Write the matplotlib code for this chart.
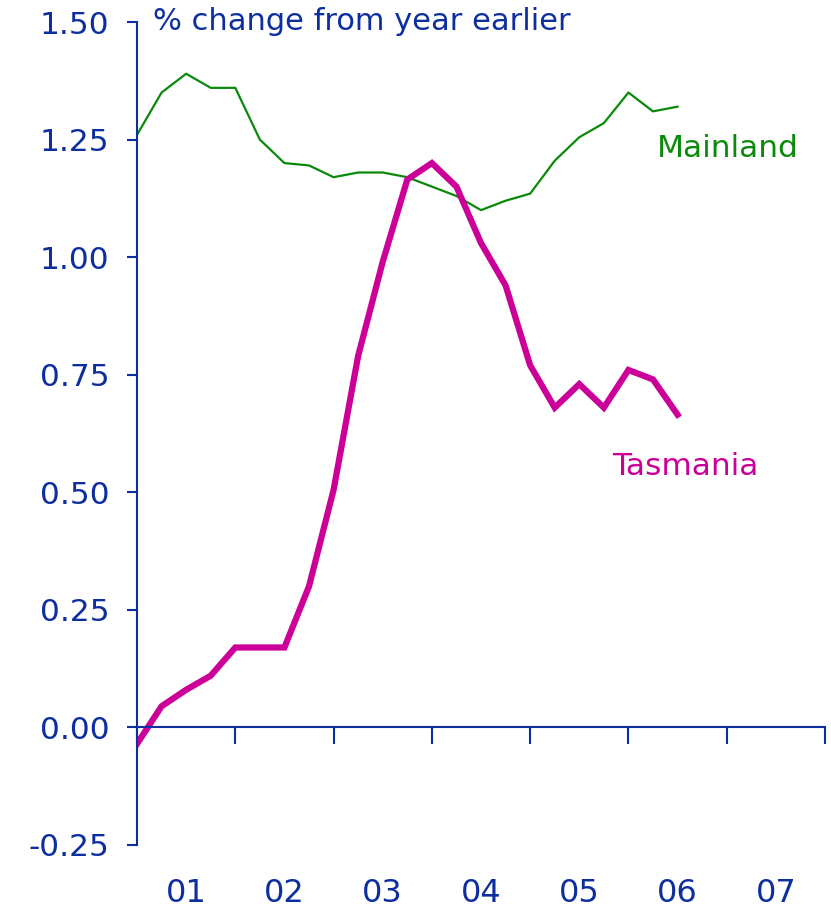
import numpy as np
import matplotlib
matplotlib.use('Agg')
import matplotlib.pyplot as plt
import matplotlib.transforms as mtransforms

# quarterly data, first point at start of 2001
quarters = np.arange(23)
tasmania = [-0.035, 0.045, 0.08, 0.11, 0.17, 0.17, 0.17, 0.30, 0.505, 0.79,
            0.99, 1.165, 1.20, 1.15, 1.03, 0.94, 0.77, 0.68, 0.73, 0.68,
            0.76, 0.74, 0.665]
mainland = [1.26, 1.35, 1.39, 1.36, 1.36, 1.25, 1.20, 1.195, 1.17, 1.18,
            1.18, 1.17, 1.15, 1.13, 1.10, 1.12, 1.135, 1.205, 1.255, 1.285,
            1.35, 1.31, 1.32]
years = ['01', '02', '03', '04', '05', '06', '07']
yticks = [-0.25, 0.0, 0.25, 0.50, 0.75, 1.00, 1.25, 1.50]

blue = '#0d2e9e'
green = '#0a8a0a'
magenta = '#cc0099'

x = 2001 + quarters / 4.0

fig = plt.figure(figsize=(8.31, 9.11), dpi=100)
ax = fig.add_axes([137/831, 1 - 845/911, (825-137)/831, (845-22)/911])

ax.plot(x, mainland, color=green, lw=1.6)
ax.plot(x, tasmania, color=magenta, lw=4.5, solid_joinstyle='miter')

ax.set_xlim(2001, 2008)
ax.set_ylim(-0.25, 1.5)

ax.spines['top'].set_visible(False)
ax.spines['right'].set_visible(False)
ax.spines['bottom'].set_position(('data', 0))
for s in ['left', 'bottom']:
    ax.spines[s].set_color(blue)
    ax.spines[s].set_linewidth(1.5)

ax.set_yticks(yticks)
ax.set_yticklabels(['%.2f' % v for v in yticks])
ax.tick_params(axis='y', direction='out', length=7, width=1.5, color=blue,
               labelcolor=blue, labelsize=22.5, pad=13)
ax.set_xticks(np.arange(2001, 2009))
ax.tick_params(axis='x', direction='out', length=12, width=1.5, color=blue,
               labelbottom=False)

trans = mtransforms.blended_transform_factory(ax.transData, fig.transFigure)
for i, lab in enumerate(years):
    ax.text(2001.5 + i, 1 - 893/911, lab, transform=trans, ha='center',
            va='center', fontsize=23, color=blue)

fig.text(153/831, 1 - 21/911, '% change from year earlier', ha='left',
         va='center', fontsize=22, color=blue)
ax.text(2007.01, 1.231, 'Mainland', ha='center', va='center', fontsize=22.5,
        color=green)
ax.text(2006.58, 0.555, 'Tasmania', ha='center', va='center', fontsize=22.5,
        color=magenta)

fig.savefig('out.png', dpi=100)
